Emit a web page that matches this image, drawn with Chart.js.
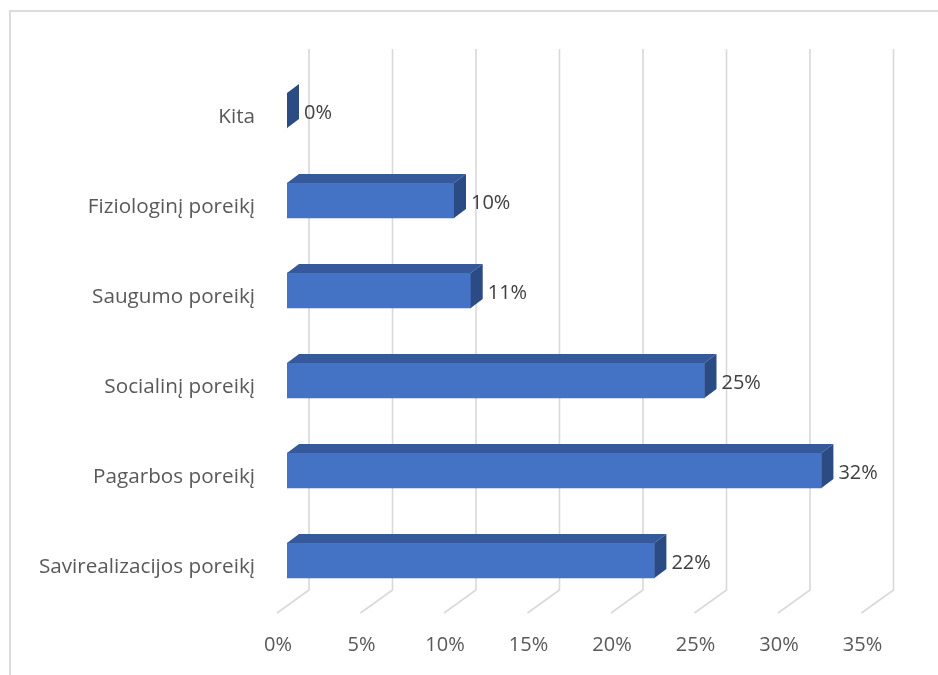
<!DOCTYPE html>
<html>
<head>
<meta charset="utf-8">
<script src="https://cdn.jsdelivr.net/npm/chart.js@4"></script>
<style>
  html, body { margin: 0; padding: 0; background: #fff; overflow: hidden; }
  #wrap { position: relative; width: 938px; height: 675px; }
  #frame { position: absolute; left: 9px; top: 10px; width: 940px; height: 680px;
           border-left: 2px solid #dcdcdc; border-top: 2px solid #dcdcdc; box-sizing: border-box; }
  canvas { position: absolute; left: 0; top: 0; }
</style>
</head>
<body>
<div id="wrap">
  <canvas id="chart" width="938" height="675"></canvas>
  <div id="frame"></div>
</div>
<script>
// --- Datos ---
const categories = ['Kita', 'Fiziologinį poreikį', 'Saugumo poreikį', 'Socialinį poreikį', 'Pagarbos poreikį', 'Savirealizacijos poreikį'];
const values = [0, 10, 11, 25, 32, 22];
const xTicks = [0, 5, 10, 15, 20, 25, 30, 35];

// --- Estilos ---
const FONT = "'Open Sans', sans-serif";
const FRONT = '#4472c4';
const TOP = '#35599a';
const SIDE = '#2b4b85';
const GRID = '#d9d9d9';

// Desplazamientos de la perspectiva (px)
const DEPTH = { dx: 12, dy: -9 };      // profundidad de cada barra
const WALL = { dx: 22, top: 49, bottom: 590 }; // pared del fondo
const FLOOR = { dx: -10, y: 613 };     // borde frontal del suelo

// Dibuja la pared, el suelo y las caras laterales/superiores de las barras
const bars3d = {
  id: 'bars3d',
  beforeDatasetsDraw(chart) {
    const ctx = chart.ctx;
    const xs = chart.scales.x;
    ctx.save();
    ctx.strokeStyle = GRID;
    ctx.lineWidth = 1.6;
    xTicks.forEach(v => {
      const px = xs.getPixelForValue(v);
      ctx.beginPath();
      ctx.moveTo(px + WALL.dx, WALL.top);
      ctx.lineTo(px + WALL.dx, WALL.bottom);
      ctx.lineTo(px + FLOOR.dx, FLOOR.y);
      ctx.stroke();
    });
    ctx.restore();
  },
  afterDatasetsDraw(chart) {
    const ctx = chart.ctx;
    const meta = chart.getDatasetMeta(0);
    ctx.save();
    meta.data.forEach((bar, i) => {
      const p = bar.getProps(['x', 'y', 'base', 'height'], true);
      const left = p.base, right = p.x;
      const top = p.y - p.height / 2, bottom = p.y + p.height / 2;
      // cara superior
      ctx.fillStyle = TOP;
      ctx.beginPath();
      ctx.moveTo(left, top);
      ctx.lineTo(left + DEPTH.dx, top + DEPTH.dy);
      ctx.lineTo(right + DEPTH.dx, top + DEPTH.dy);
      ctx.lineTo(right, top);
      ctx.closePath();
      ctx.fill();
      // cara lateral
      ctx.fillStyle = SIDE;
      ctx.beginPath();
      ctx.moveTo(right, top);
      ctx.lineTo(right + DEPTH.dx, top + DEPTH.dy);
      ctx.lineTo(right + DEPTH.dx, bottom + DEPTH.dy);
      ctx.lineTo(right, bottom);
      ctx.closePath();
      ctx.fill();
      // etiqueta de valor
      ctx.fillStyle = '#404040';
      ctx.font = '20px ' + FONT;
      ctx.textAlign = 'left';
      ctx.textBaseline = 'middle';
      ctx.fillText(values[i] + '%', right + DEPTH.dx + 5, p.y + 3);
    });
    ctx.restore();
  }
};

new Chart(document.getElementById('chart'), {
  type: 'bar',
  data: {
    labels: categories,
    datasets: [{
      data: values,
      backgroundColor: FRONT,
      borderWidth: 0,
      barThickness: 35
    }]
  },
  options: {
    indexAxis: 'y',
    responsive: false,
    animation: false,
    layout: { padding: { top: 65.5, right: 66.5, left: 0, bottom: 0 } },
    plugins: { legend: { display: false }, tooltip: { enabled: false } },
    scales: {
      x: {
        min: 0, max: 35,
        afterFit(scale) { scale.height = 69.5; },
        afterBuildTicks(scale) { scale.ticks = xTicks.map(v => ({ value: v })); },
        grid: { display: false, drawTicks: false },
        border: { display: false },
        ticks: {
          padding: 28,
          labelOffset: -9,
          color: '#595959',
          font: { family: FONT, size: 20 },
          callback: v => v + '%'
        }
      },
      y: {
        afterFit(scale) { scale.width = 287; },
        grid: { display: false, drawTicks: false },
        border: { display: false },
        ticks: {
          padding: 32,
          labelOffset: 7,
          color: '#595959',
          font: { family: FONT, size: 20.7 }
        }
      }
    }
  },
  plugins: [bars3d]
});
</script>
</body>
</html>
